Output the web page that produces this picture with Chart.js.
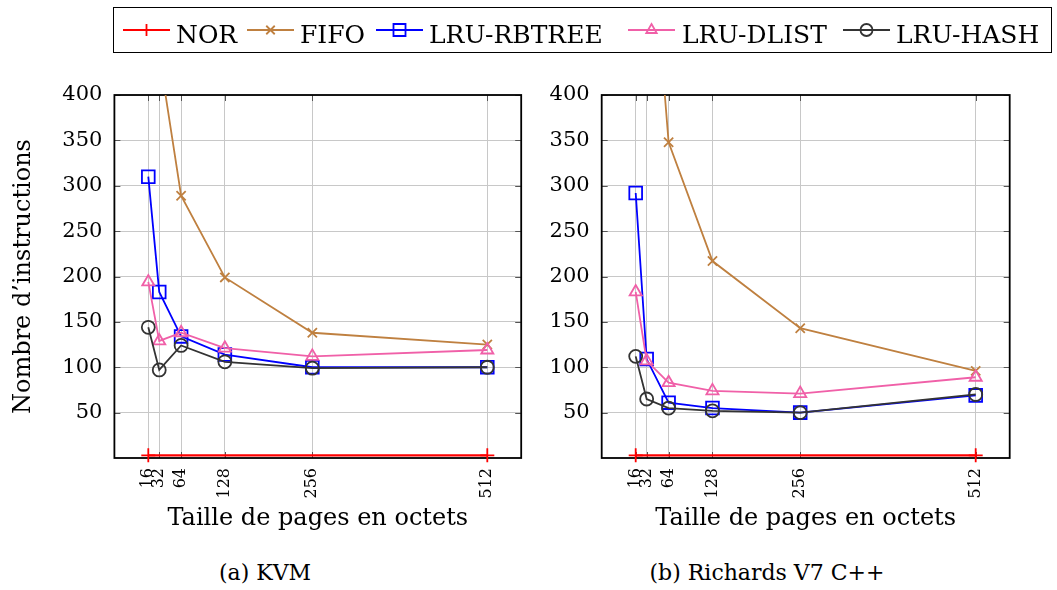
<!DOCTYPE html>
<html>
<head>
<meta charset="utf-8">
<script src="https://cdn.jsdelivr.net/npm/chart.js@4.4.1/dist/chart.umd.min.js"></script>
<style>
  html, body { margin: 0; padding: 0; background: #ffffff; }
  body { width: 1057px; height: 590px; position: relative; overflow: hidden; font-family: 'DejaVu Serif', serif; color: #000; }
  canvas { position: absolute; top: 0; }
  #legend { position: absolute; left: 113px; top: 7px; width: 939px; height: 46px; border: 1.4px solid #000; box-sizing: border-box; }
  .lg-icon { position: absolute; }
  .lg-text { position: absolute; top: 12px; font-size: 25px; line-height: 30px; white-space: nowrap; }
  .caption { position: absolute; top: 558px; font-size: 22px; line-height: 30px; white-space: nowrap; transform: translateX(-50%); }
</style>
</head>
<body>
<canvas id="chartA" width="530" height="545" style="left:0px"></canvas>
<canvas id="chartB" width="527" height="545" style="left:530px"></canvas>
<div id="legend"></div>
<div class="caption" style="left:265px">(a) KVM</div>
<div class="caption" style="left:767px">(b) Richards V7 C++</div>
<script>
// ---------- data ----------
const pageSizes = [16, 32, 64, 128, 256, 512];
const yTicks = [50, 100, 150, 200, 250, 300, 350, 400];
const norSizes = [16, 512];

const seriesNames = ['NOR', 'FIFO', 'LRU-RBTREE', 'LRU-DLIST', 'LRU-HASH'];

// (a) KVM
const kvmNOR = [3, 3];
const kvmFIFO = [620, 445, 289, 199, 138, 125];
const kvmRBTREE = [310, 183, 134, 114, 100, 100];
const kvmDLIST = [194, 129, 138, 121, 112, 119];
const kvmHASH = [144, 97, 124, 106, 99, 100];

// (b) Richards V7 C++
const richNOR = [3, 3];
const richFIFO = [900, 650, 348, 217, 143, 96];
const richRBTREE = [292, 109, 61, 55, 50, 69];
const richDLIST = [183, 107, 83, 74, 71, 89];
const richHASH = [112, 65, 55, 52, 50, 70];

// ---------- styles ----------
const styles = {
  'NOR':        { color: '#ff0000', pointStyle: 'cross',    radius: 7,   order: 4, width: 2.2 },
  'FIFO':       { color: '#bf8040', pointStyle: 'crossRot', radius: 6.5, order: 3, width: 1.8 },
  'LRU-RBTREE': { color: '#0000ff', pointStyle: 'rect',     radius: 9,   order: 2, width: 1.8 },
  'LRU-DLIST':  { color: '#f060a8', pointStyle: 'triangle', radius: 7,   order: 1, width: 1.8 },
  'LRU-HASH':   { color: '#333333', pointStyle: 'circle',   radius: 6.5, order: 0, width: 1.8 }
};
const FONT = "'DejaVu Serif', serif";

function makeDataset(name, xs, ys, extra) {
  const s = styles[name];
  return Object.assign({
    label: name,
    data: xs.map((x, i) => ({ x: x, y: ys[i] })),
    borderColor: s.color,
    backgroundColor: 'rgba(0,0,0,0)',
    pointStyle: s.pointStyle,
    pointRadius: s.radius,
    pointBorderColor: s.color,
    pointBackgroundColor: 'rgba(0,0,0,0)',
    pointBorderWidth: 1.8,
    borderWidth: s.width,
    tension: 0,
    order: s.order
  }, extra || {});
}

// Frame + inner tick marks (pgfplots style)
const framePlugin = {
  id: 'frame',
  beforeDatasetsDraw(chart) {
    const { ctx, chartArea: a, scales } = chart;
    ctx.save();
    ctx.strokeStyle = '#555555';
    ctx.lineWidth = 1;
    const tl = 6;
    scales.y.ticks.forEach(t => {
      const py = Math.round(scales.y.getPixelForValue(t.value)) + 0.5;
      ctx.beginPath();
      ctx.moveTo(a.left, py); ctx.lineTo(a.left + tl, py);
      ctx.moveTo(a.right, py); ctx.lineTo(a.right - tl, py);
      ctx.stroke();
    });
    scales.x.ticks.forEach(t => {
      const px = Math.round(scales.x.getPixelForValue(t.value)) + 0.5;
      ctx.beginPath();
      ctx.moveTo(px, a.top); ctx.lineTo(px, a.top + tl);
      ctx.moveTo(px, a.bottom); ctx.lineTo(px, a.bottom - tl);
      ctx.stroke();
    });
    ctx.strokeStyle = '#000000';
    ctx.lineWidth = 1.8;
    ctx.strokeRect(a.left, a.top, a.right - a.left, a.bottom - a.top);
    ctx.restore();
  }
};

function makeChart(canvasId, sets, opts) {
  const datasets = [
    makeDataset('NOR', norSizes, sets.nor, { clip: false }),
    makeDataset('FIFO', pageSizes, sets.fifo, { clip: 0 }),
    makeDataset('LRU-RBTREE', pageSizes, sets.rbtree),
    makeDataset('LRU-DLIST', pageSizes, sets.dlist),
    makeDataset('LRU-HASH', pageSizes, sets.hash)
  ];
  return new Chart(document.getElementById(canvasId), {
    type: 'line',
    data: { datasets: datasets },
    plugins: [framePlugin],
    options: {
      responsive: false,
      animation: false,
      devicePixelRatio: 1,
      layout: { autoPadding: false, padding: { top: 95, right: opts.padRight, left: 0, bottom: 0 } },
      plugins: { legend: { display: false }, tooltip: { enabled: false } },
      scales: {
        x: {
          type: 'linear',
          min: -33.6,
          max: 561.6,
          afterBuildTicks: sc => { sc.ticks = pageSizes.map(v => ({ value: v })); },
          afterFit: sc => { sc.height = 87; },
          grid: { color: '#c8c8c8', lineWidth: 1, drawTicks: false },
          border: { display: false },
          ticks: {
            autoSkip: false,
            minRotation: 90,
            maxRotation: 90,
            padding: 10,
            color: '#000',
            font: { family: FONT, size: 16 },
            callback: v => String(v)
          },
          title: {
            display: true,
            text: 'Taille de pages en octets',
            color: '#000',
            font: { family: FONT, size: 24 },
            padding: { top: 0, bottom: 12 }
          }
        },
        y: {
          type: 'linear',
          min: 0,
          max: 400,
          afterBuildTicks: sc => { sc.ticks = yTicks.map(v => ({ value: v })); },
          afterFit: sc => { sc.width = opts.yWidth; },
          grid: { color: '#c8c8c8', lineWidth: 1, drawTicks: false },
          border: { display: false },
          ticks: {
            padding: 12,
            color: '#000',
            font: { family: FONT, size: 21 },
            callback: v => String(v)
          },
          title: {
            display: opts.yTitle,
            text: 'Nombre d\u2019instructions',
            color: '#000',
            font: { family: FONT, size: 24 },
            padding: { top: 9, bottom: 0 }
          }
        }
      }
    }
  });
}

makeChart('chartA',
  { nor: kvmNOR, fifo: kvmFIFO, rbtree: kvmRBTREE, dlist: kvmDLIST, hash: kvmHASH },
  { padRight: 8.8, yWidth: 114.4, yTitle: true });
makeChart('chartB',
  { nor: richNOR, fifo: richFIFO, rbtree: richRBTREE, dlist: richDLIST, hash: richHASH },
  { padRight: 47.3, yWidth: 71.7, yTitle: false });

// ---------- legend (HTML, icons drawn from the same styles) ----------
const legendPos = [
  { icon: 123, text: 176 },
  { icon: 247, text: 300 },
  { icon: 376, text: 429 },
  { icon: 628, text: 682 },
  { icon: 843, text: 896 }
];
const legend = document.getElementById('legend');
const boxLeft = 113, boxTop = 7;
seriesNames.forEach((name, i) => {
  const s = styles[name];
  const c = document.createElement('canvas');
  c.width = 48; c.height = 24;
  c.className = 'lg-icon';
  c.style.left = (legendPos[i].icon - boxLeft - 1) + 'px';
  c.style.top = (30 - 12 - boxTop - 1) + 'px';
  legend.appendChild(c);
  const ctx = c.getContext('2d');
  ctx.strokeStyle = s.color;
  ctx.fillStyle = 'rgba(0,0,0,0)';
  ctx.lineWidth = 1.8;
  ctx.beginPath(); ctx.moveTo(0, 12); ctx.lineTo(47, 12); ctx.stroke();
  Chart.helpers.drawPoint(ctx, {
    pointStyle: s.pointStyle, radius: name === 'LRU-RBTREE' ? 8.5 : 6, rotation: 0, borderWidth: 1.8
  }, 23.5, 12);
  const t = document.createElement('div');
  t.className = 'lg-text';
  t.style.left = (legendPos[i].text - boxLeft - 1) + 'px';
  t.textContent = name;
  legend.appendChild(t);
});
</script>
</body>
</html>
